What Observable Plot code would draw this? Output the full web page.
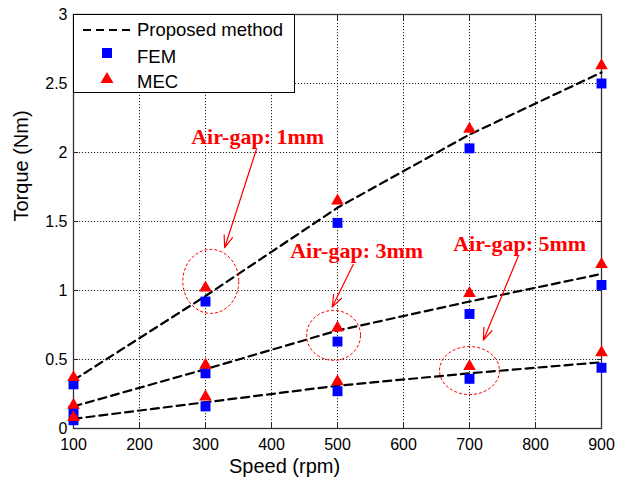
<!DOCTYPE html>
<html>
<head>
<meta charset="utf-8">
<script src="https://cdn.jsdelivr.net/npm/d3@7"></script>
<script src="https://cdn.jsdelivr.net/npm/@observablehq/plot@0.6"></script>
<style>
  body { margin: 0; background: #fff; }
  #wrap { position: relative; width: 617px; height: 484px; font-family: "Liberation Sans", Arial, sans-serif; }
  #legend { position: absolute; left: 73px; top: 14px; width: 220px; height: 77px; background: #fff; border: 1px solid #000; }
</style>
</head>
<body>
<div id="wrap"></div>
<script>
// ---- data ----
const speeds = [100, 300, 500, 700, 900];
const gaps = ["1mm", "3mm", "5mm"];
const proposed1 = [0.35, 0.96, 1.60, 2.13, 2.58];
const fem1      = [0.32, 0.92, 1.49, 2.03, 2.50];
const mec1      = [0.37, 1.02, 1.65, 2.17, 2.63];
const proposed3 = [0.16, 0.43, 0.71, 0.92, 1.12];
const fem3      = [0.13, 0.40, 0.63, 0.83, 1.04];
const mec3      = [0.17, 0.46, 0.73, 0.98, 1.19];
const proposed5 = [0.07, 0.19, 0.31, 0.40, 0.48];
const fem5      = [0.06, 0.16, 0.27, 0.36, 0.44];
const mec5      = [0.08, 0.23, 0.34, 0.45, 0.55];
const xTicks = [100, 200, 300, 400, 500, 600, 700, 800, 900];
const yTicks = [0, 0.5, 1, 1.5, 2, 2.5, 3];
const yTickLabels = ["0", "0.5", "1", "1.5", "2", "2.5", "3"];
// annotations (data units)
const annoText = ["Air-gap: 1mm", "Air-gap: 3mm", "Air-gap: 5mm"];
const annoTextX = [379, 529, 776];
const annoTextY = [2.11, 1.29, 1.34];
const arrowX1 = [377, 524, 774];
const arrowY1 = [2.02, 1.19, 1.25];
const arrowX2 = [329, 492, 721];
const arrowY2 = [1.31, 0.88, 0.64];
const ellX = [308, 494, 700];
const ellY = [1.066, 0.675, 0.42];

// ---- tables ----
const series = [[proposed1, fem1, mec1], [proposed3, fem3, mec3], [proposed5, fem5, mec5]];
const rows = [];
gaps.forEach((g, gi) => speeds.forEach((s, i) => rows.push({
  gap: g, speed: s, proposed: series[gi][0][i], fem: series[gi][1][i], mec: series[gi][2][i]
})));
const annos = annoText.map((t, i) => ({
  t, tx: annoTextX[i], ty: annoTextY[i],
  x1: arrowX1[i], y1: arrowY1[i], x2: arrowX2[i], y2: arrowY2[i],
  ex: ellX[i], ey: ellY[i]
}));

function ellipse(rx, ry) {
  const k = 0.5523;
  return {
    draw(ctx) {
      ctx.moveTo(rx, 0);
      ctx.bezierCurveTo(rx, ry * k, rx * k, ry, 0, ry);
      ctx.bezierCurveTo(-rx * k, ry, -rx, ry * k, -rx, 0);
      ctx.bezierCurveTo(-rx, -ry * k, -rx * k, -ry, 0, -ry);
      ctx.bezierCurveTo(rx * k, -ry, rx, -ry * k, rx, 0);
      ctx.closePath();
    }
  };
}
const ellSizes = [[28, 32], [27, 25], [30, 24]];

const chart = Plot.plot({
  width: 617,
  height: 484,
  marginLeft: 73,
  marginRight: 16,
  marginTop: 14,
  marginBottom: 56,
  style: { fontFamily: "Liberation Sans, Arial, sans-serif", background: "#fff", overflow: "visible" },
  x: { domain: [100, 900] },
  y: { domain: [0, 3] },
  marks: [
    Plot.gridX(xTicks, { stroke: "#000", strokeOpacity: 0.85, strokeDasharray: "1.2,1.8", strokeWidth: 1 }),
    Plot.gridY(yTicks, { stroke: "#000", strokeOpacity: 0.85, strokeDasharray: "1.2,1.8", strokeWidth: 1 }),
    Plot.axisX(xTicks, { anchor: "bottom", tickSize: 0, tickPadding: 10, fontSize: 16, label: null, fill: "#000" }),
    Plot.axisY(yTicks, { anchor: "left", tickSize: 0, tickPadding: 6, fontSize: 16, label: null, tickFormat: (d, i) => yTickLabels[i], fill: "#000" }),
    Plot.axisX(xTicks, { anchor: "bottom", tickSize: -5, text: null, label: null, stroke: "#222" }),
    Plot.axisX(xTicks, { anchor: "top", tickSize: -5, text: null, label: null, stroke: "#222" }),
    Plot.axisY(yTicks, { anchor: "left", tickSize: -5, text: null, label: null, stroke: "#222" }),
    Plot.axisY(yTicks, { anchor: "right", tickSize: -5, text: null, label: null, stroke: "#222" }),
    Plot.frame({ stroke: "#333", strokeWidth: 1.3 }),
    Plot.line(rows, { x: "speed", y: "proposed", z: "gap", stroke: "#000", strokeWidth: 2.2, strokeDasharray: "8,5" }),
    Plot.dot(rows, { x: "speed", y: "fem", symbol: "square", r: 5.6, fill: "#0000ff", stroke: "none" }),
    Plot.dot(rows, { x: "speed", y: "mec", symbol: "triangle", r: 4.7, fill: "#ff0000", stroke: "none" }),
    ...annos.map((a, i) => Plot.dot([a], { x: "ex", y: "ey", symbol: ellipse(ellSizes[i][0], ellSizes[i][1]), r: 10, fill: "none", stroke: "#ff0000", strokeWidth: 1, strokeDasharray: "3,2" })),
    Plot.arrow(annos, { x1: "x1", y1: "y1", x2: "x2", y2: "y2", stroke: "#ff0000", strokeWidth: 1.2, headLength: 16, headAngle: 40 }),
    Plot.text(annos, { x: "tx", y: "ty", text: "t", fill: "#ff0000", fontFamily: "Liberation Serif, Times New Roman, serif", fontWeight: "bold", fontSize: 22 }),
    Plot.text(["Speed (rpm)"], { frameAnchor: "bottom", lineAnchor: "middle", dx: -53, dy: 38, fontSize: 20, fill: "#000" }),
    Plot.text(["Torque (Nm)"], { frameAnchor: "left", lineAnchor: "middle", dx: -52, rotate: -90, fontSize: 20, fill: "#000" })
  ]
});

const wrap = document.getElementById("wrap");
wrap.appendChild(chart);

// legend (inside plot frame, top-left)
const legend = document.createElement("div");
legend.id = "legend";
legend.innerHTML = `
<svg width="220" height="77" style="font-family: 'Liberation Sans', Arial, sans-serif">
  <line x1="9" x2="57" y1="15" y2="15" stroke="#000" stroke-width="2.2" stroke-dasharray="8,5"/>
  <text x="63" y="21" font-size="18.5" fill="#000">Proposed method</text>
  <rect x="28" y="33" width="10" height="10" fill="#0000ff"/>
  <text x="63" y="48" font-size="18.5" fill="#000">FEM</text>
  <path d="M33,57 L39.5,68 L26.5,68 Z" fill="#ff0000"/>
  <text x="63" y="73" font-size="18.5" fill="#000">MEC</text>
</svg>`;
wrap.appendChild(legend);
</script>
</body>
</html>
